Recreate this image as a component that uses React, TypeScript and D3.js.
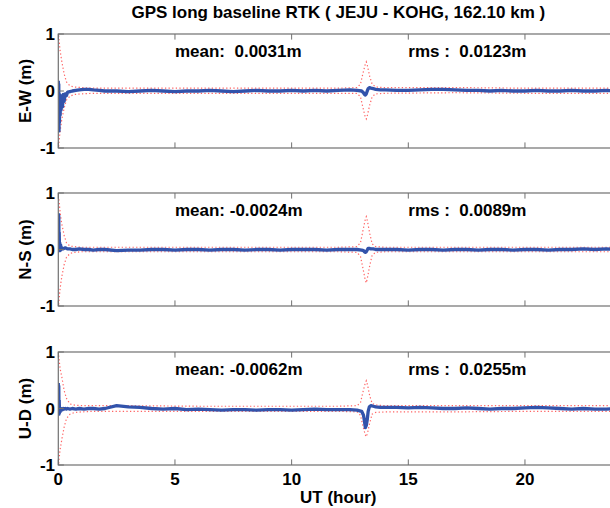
import React from "react";
import * as d3 from "d3";

const title = "GPS long baseline RTK ( JEJU - KOHG, 162.10 km )";
const xLabel = "UT (hour)";
const xTicks = [0, 5, 10, 15, 20];
const yTicks = [-1, 0, 1];
const panelLabels = ["E-W (m)", "N-S (m)", "U-D (m)"];
const meanTexts = ["mean:  0.0031m", "mean: -0.0024m", "mean: -0.0062m"];
const rmsTexts = ["rms :  0.0123m", "rms :  0.0089m", "rms :  0.0255m"];

// solution time (hour)
const blueT = [
  0, 0.01, 0.02, 0.03, 0.04, 0.05, 0.06, 0.08, 0.1, 0.12, 0.15, 0.18, 0.21, 0.25, 0.3, 0.35, 0.4,
  0.5, 0.6, 0.75, 0.9, 1.1, 1.3, 1.5, 1.75, 2,
  2.5, 3, 3.5, 4, 4.5, 5, 5.5, 6, 6.5, 7, 7.5, 8, 8.5, 9, 9.5, 10, 10.5, 11, 11.5, 12, 12.5,
  12.8, 13.0, 13.08, 13.12, 13.16, 13.2, 13.24, 13.28, 13.33, 13.4, 13.5, 13.6, 13.8, 14,
  14.5, 15, 15.5, 16, 16.5, 17, 17.5, 18, 18.5, 19, 19.5, 20, 20.5, 21, 21.5, 22, 22.5, 23, 23.5, 24,
];

const ewValues = [
  0.18, -0.62, 0.12, -0.7, -0.05, -0.55, -0.12, -0.42, -0.08, -0.33, -0.1, -0.28, -0.06, -0.18, -0.05, -0.08, -0.02,
  -0.01, 0.0, 0.01, 0.02, 0.03, 0.03, 0.02, 0.01, 0.0,
  0.0, -0.01, 0.0, 0.01, 0.0, -0.01, 0.0, 0.0, 0.01, 0.0, -0.01, 0.0, 0.01, 0.0, 0.0, 0.01, 0.0, 0.01, 0.0, 0.01, 0.02,
  0.01, 0.0, -0.03, -0.06, -0.07, -0.05, 0.0, 0.04, 0.06, 0.05, 0.04, 0.03, 0.02, 0.02,
  0.01, 0.01, 0.02, 0.03, 0.03, 0.02, 0.01, 0.01, 0.0, 0.01, 0.0, 0.0, 0.01, 0.0, 0.0, 0.01, 0.0, 0.0, 0.01, 0.0,
];
const nsValues = [
  0.64, -0.02, 0.6, 0.05, 0.3, 0.02, 0.12, -0.02, 0.08, 0.0, 0.03, 0.02, 0.01, 0.02, 0.03, 0.02, 0.01,
  0.01, 0.0, 0.0, 0.01, 0.0, 0.0, -0.01, 0.0, 0.0,
  -0.02, -0.01, -0.01, 0.0, 0.0, -0.01, 0.0, 0.0, -0.01, 0.0, 0.0, -0.01, 0.0, 0.0, -0.01, 0.0, 0.0, 0.0, -0.01, 0.0, 0.0,
  0.0, -0.01, -0.02, -0.04, -0.05, -0.04, -0.01, 0.02, 0.02, 0.01, 0.01, 0.0, 0.0, 0.0,
  0.0, -0.01, 0.0, 0.0, -0.01, 0.0, 0.0, -0.01, 0.0, 0.0, -0.01, 0.0, 0.0, -0.01, 0.0, 0.0, 0.01, 0.0, 0.01, 0.0,
];
const udValues = [
  0.45, -0.05, 0.4, -0.1, 0.15, -0.08, 0.02, -0.06, 0.0, -0.03, -0.01, -0.02, 0.0, -0.01, 0.0, -0.01, 0.0,
  -0.01, 0.0, -0.01, 0.0, -0.01, 0.0, 0.0, -0.01, 0.0,
  0.05, 0.03, 0.02, 0.0, -0.01, 0.0, -0.02, -0.01, -0.02, -0.03, -0.02, -0.02, -0.03, -0.02, -0.02, -0.03, -0.02, -0.01, -0.02, -0.02, -0.02,
  -0.03, -0.05, -0.12, -0.22, -0.34, -0.3, -0.2, -0.05, 0.03, 0.05, 0.04, 0.03, 0.02, 0.02,
  0.02, 0.01, 0.02, 0.01, 0.0, 0.0, 0.01, 0.0, -0.01, 0.0, 0.0, 0.01, 0.02, 0.01, 0.0, -0.01, 0.0, -0.01, -0.01, 0.0,
];

// error envelope time (hour)
const envT = [0, 0.03, 0.08, 0.15, 0.25, 0.35, 0.5, 0.7, 1.0, 1.5, 3, 6, 9, 12, 12.8, 12.95, 13.05, 13.15, 13.2, 13.25, 13.35, 13.45, 13.6, 14, 17, 20, 24];

const ewUpper = [1.1, 0.89, 0.7, 0.52, 0.3, 0.16, 0.09, 0.07, 0.06, 0.05, 0.05, 0.05, 0.05, 0.05, 0.06, 0.12, 0.3, 0.46, 0.51, 0.44, 0.25, 0.12, 0.07, 0.06, 0.06, 0.05, 0.05];
const ewLower = [-1.1, -0.88, -0.7, -0.5, -0.3, -0.16, -0.09, -0.06, -0.05, -0.04, -0.04, -0.04, -0.04, -0.04, -0.04, -0.1, -0.28, -0.45, -0.49, -0.42, -0.24, -0.1, -0.05, -0.04, -0.03, -0.04, -0.04];
const nsUpper = [0.95, 0.87, 0.65, 0.45, 0.25, 0.12, 0.06, 0.05, 0.04, 0.04, 0.04, 0.04, 0.04, 0.04, 0.05, 0.12, 0.32, 0.52, 0.58, 0.5, 0.28, 0.1, 0.05, 0.04, 0.04, 0.04, 0.04];
const nsLower = [-1.1, -0.9, -0.68, -0.48, -0.27, -0.14, -0.07, -0.05, -0.04, -0.04, -0.04, -0.04, -0.04, -0.04, -0.05, -0.12, -0.32, -0.53, -0.59, -0.5, -0.28, -0.1, -0.05, -0.04, -0.04, -0.04, -0.04];
const udUpper = [1.0, 0.88, 0.7, 0.56, 0.32, 0.18, 0.08, 0.06, 0.05, 0.05, 0.05, 0.04, 0.04, 0.04, 0.05, 0.1, 0.28, 0.44, 0.49, 0.42, 0.22, 0.09, 0.06, 0.05, 0.05, 0.05, 0.05];
const udLower = [-1.1, -0.9, -0.72, -0.55, -0.33, -0.18, -0.1, -0.07, -0.06, -0.05, -0.05, -0.05, -0.05, -0.05, -0.06, -0.12, -0.3, -0.46, -0.5, -0.44, -0.25, -0.1, -0.07, -0.06, -0.06, -0.05, -0.05];

const W = 610;
const H = 508;
const FONT = "'Liberation Sans', Arial, Helvetica, sans-serif";
const AXIS = "#707070";
const BLUE = "#3253ab";
const RED = "#ff3030";
const TICK = 5.6;

const panelBoxes = [
  { top: 34, bottom: 148 },
  { top: 193, bottom: 306 },
  { top: 352, bottom: 465 },
];

const seriesSets = [
  { blue: ewValues, upper: ewUpper, lower: ewLower },
  { blue: nsValues, upper: nsUpper, lower: nsLower },
  { blue: udValues, upper: udUpper, lower: udLower },
];

export default function App() {
  const x = d3.scaleLinear().domain([0, 24]).range([58.3, 618.3]);
  const [x0, x1] = x.range();

  return (
    <svg
      width={W}
      height={H}
      style={{ position: "absolute", left: 0, top: 0, background: "#fff" }}
      fontFamily={FONT}
      fontWeight="bold"
    >
      <rect width={W} height={H} fill="#fff" />
      <text x={(x0 + x1) / 2} y={17.5} textAnchor="middle" fontSize={17}>
        {title}
      </text>
      {panelBoxes.map((box, i) => {
        const y = d3.scaleLinear().domain([-1, 1]).range([box.bottom, box.top]);
        const s = seriesSets[i];
        const line = d3
          .line<number>()
          .x((_, k) => x(blueT[k]))
          .y((v) => y(v));
        const env = d3
          .line<number>()
          .x((_, k) => x(envT[k]))
          .y((v) => y(v));
        const clipId = `clip${i}`;
        const midY = (box.top + box.bottom) / 2;
        return (
          <g key={i}>
            <defs>
              <clipPath id={clipId}>
                <rect x={x0} y={box.top} width={x1 - x0} height={box.bottom - box.top} />
              </clipPath>
            </defs>
            <g clipPath={`url(#${clipId})`}>
              <path d={env(s.upper) || ""} fill="none" stroke={RED} strokeWidth={1.2} strokeDasharray="1.3 2.3" opacity={0.75} />
              <path d={env(s.lower) || ""} fill="none" stroke={RED} strokeWidth={1.2} strokeDasharray="1.3 2.3" opacity={0.75} />
              <path d={line(s.blue) || ""} fill="none" stroke={BLUE} strokeWidth={3.3} strokeLinejoin="round" />
            </g>
            <rect x={x0} y={box.top} width={x1 - x0} height={box.bottom - box.top} fill="none" stroke={AXIS} strokeWidth={1.2} />
            {xTicks.map((t) => (
              <g key={t}>
                <line x1={x(t)} x2={x(t)} y1={box.bottom} y2={box.bottom - TICK} stroke={AXIS} strokeWidth={1} />
                <line x1={x(t)} x2={x(t)} y1={box.top} y2={box.top + TICK} stroke={AXIS} strokeWidth={1} />
              </g>
            ))}
            {yTicks.map((t) => (
              <g key={t}>
                <line x1={x0} x2={x0 + TICK} y1={y(t)} y2={y(t)} stroke={AXIS} strokeWidth={1} />
                <line x1={x1} x2={x1 - TICK} y1={y(t)} y2={y(t)} stroke={AXIS} strokeWidth={1} />
                <text x={55} y={y(t)} dy="0.36em" textAnchor="end" fontSize={17}>
                  {t}
                </text>
              </g>
            ))}
            <text
              transform={`translate(25,${midY}) rotate(-90)`}
              textAnchor="middle"
              dy="0.36em"
              fontSize={17}
            >
              {panelLabels[i]}
            </text>
            <text x={x(5)} y={y(0.67) + 4.5} fontSize={17} style={{ whiteSpace: "pre" }}>
              {meanTexts[i]}
            </text>
            <text x={x(15)} y={y(0.67) + 4.5} fontSize={17} style={{ whiteSpace: "pre" }}>
              {rmsTexts[i]}
            </text>
            {i === panelBoxes.length - 1 &&
              xTicks.map((t) => (
                <text key={`xl${t}`} x={x(t)} y={box.bottom + 14} dy="0.36em" textAnchor="middle" fontSize={17}>
                  {t}
                </text>
              ))}
          </g>
        );
      })}
      <text x={(x0 + x1) / 2} y={497} dy="0.36em" textAnchor="middle" fontSize={17}>
        {xLabel}
      </text>
    </svg>
  );
}
